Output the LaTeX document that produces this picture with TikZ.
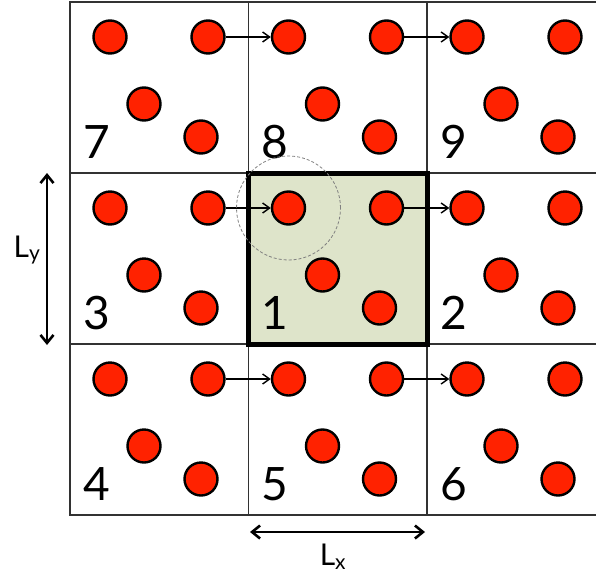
\documentclass[tikz,border=0pt]{standalone}
\usepackage{fontspec}
\setmainfont{Lato}
\usetikzlibrary{arrows.meta}
\definecolor{dotred}{RGB}{255,34,0}
\definecolor{cellgreen}{RGB}{222,228,202}
\definecolor{gridgray}{RGB}{50,50,50}

\tikzset{
  particle/.style={circle,draw=black,line width=2.4pt,fill=dotred,minimum size=33pt,inner sep=0pt},
  celllabel/.style={anchor=base west,inner sep=0pt,font=\fontsize{46}{46}\selectfont},
  hop/.style={-{Straight Barb[length=7pt,width=10pt]},line width=1.4pt},
  span/.style={{Straight Barb[length=8pt,width=13pt]}-{Straight Barb[length=8pt,width=13pt]},line width=2.6pt},
  dimlabel/.style={font=\fontsize{30}{30}\selectfont}
}

\begin{document}
\begin{tikzpicture}[x=1pt,y=-1pt]
  \useasboundingbox (0,0) rectangle (596,581);
  \begin{scope}
    \clip (0,0) rectangle (596,581);
    % central (primary) box
    \fill[cellgreen] (248.5,173) rectangle (427,344);
    % periodic images
    \foreach \c in {0,1,2}
      \foreach \r in {0,1,2}
        \draw[gridgray,line width=1.7pt] ({70+178.5*\c},{2+171*\r}) rectangle ++(178.5,171);
    \draw[line width=5pt] (248.5,173) rectangle (427,344);
    % particles and cell numbers
    \foreach \n/\c/\r in {7/0/0,8/1/0,9/2/0,3/0/1,1/1/1,2/2/1,4/0/2,5/1/2,6/2/2}{
      \begin{scope}[shift={({70+178.5*\c},{2+171*\r})}]
        \node[particle] (p\n a) at (40,35) {};
        \node[particle] (p\n b) at (138,35) {};
        \node[particle] (p\n c) at (74,102) {};
        \node[particle] (p\n d) at (131,135) {};
        \node[celllabel] (n\n) at (13,156) {\n};
      \end{scope}
    }
  \end{scope}
  % particles leaving one cell enter the next
  \foreach \u/\v in {7/8,8/9,3/1,1/2,4/5,5/6}
    \draw[hop] (p\u b) -- (p\v a);
  % cutoff radius
  \draw[gray,line width=0.8pt,dash pattern=on 3pt off 2pt] (p1a.center) circle (52pt);
  % box lengths
  \coordinate (lytop) at (47,173);
  \coordinate (lybot) at (47,345);
  \draw[span] (lytop) -- (lybot);
  \node[dimlabel] (ly) at (27,250) {L\textsubscript{y}};
  \coordinate (lxleft) at (250,532);
  \coordinate (lxright) at (425,532);
  \draw[span] (lxleft) -- (lxright);
  \node[dimlabel] (lx) at (333,557) {L\textsubscript{x}};
\end{tikzpicture}
\end{document}
